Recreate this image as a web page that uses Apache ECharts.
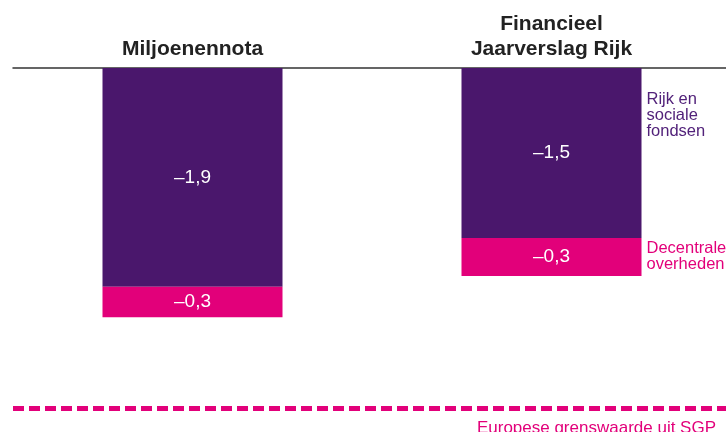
<!DOCTYPE html>
<html>
<head>
<meta charset="utf-8">
<script src="https://cdn.jsdelivr.net/npm/echarts@6/dist/echarts.min.js"></script>
<style>
html,body{margin:0;padding:0;background:#fff;overflow:hidden;width:726px;height:432px;}
#chart{width:736px;height:432px;}
</style>
</head>
<body>
<div id="chart"></div>
<script>
const categories = ['Miljoenennota', 'Financieel\nJaarverslag Rijk'];
const rijkEnSocialeFondsen = [-1.93, -1.50];
const decentraleOverheden = [-0.27, -0.335];
const sgpLimit = -3;
const seriesLabels = ['Rijk en\nsociale\nfondsen', 'Decentrale\noverheden'];
const limitLabel = 'Europese grenswaarde uit SGP';

const PURPLE = '#4A176C';
const PINK = '#E2007A';
const FONT = '"Liberation Sans", Arial, Helvetica, sans-serif';

function fmt(v) {
  return '\u2013' + Math.abs(v).toFixed(1).replace('.', ',');
}

const chart = echarts.init(document.getElementById('chart'), null, {renderer: 'canvas'});
const lastIdx = categories.length - 1;

chart.setOption({
  animation: false,
  backgroundColor: '#fff',
  textStyle: {fontFamily: FONT},
  grid: {left: 13, right: 5, top: 68, height: 362.6, containLabel: false},
  xAxis: {
    type: 'category',
    position: 'top',
    data: categories,
    axisLine: {show: true, lineStyle: {color: '#333', width: 1.5}},
    axisTick: {show: false},
    axisLabel: {
      margin: 6,
      fontSize: 21,
      fontWeight: 'bold',
      lineHeight: 25,
      color: '#222',
      fontFamily: FONT
    }
  },
  yAxis: {
    type: 'value',
    min: -3.2,
    max: 0,
    show: false,
    splitLine: {show: false}
  },
  series: [
    {
      name: 'Rijk en sociale fondsen',
      type: 'bar',
      stack: 'saldo',
      barWidth: 180,
      data: rijkEnSocialeFondsen,
      itemStyle: {color: PURPLE},
      label: {
        show: true, position: 'inside', color: '#fff', fontSize: 19,
        fontFamily: FONT,
        formatter: p => fmt(p.value)
      },
      markPoint: {
        silent: true,
        symbol: 'circle', symbolSize: 0,
        data: [{coord: [lastIdx, -0.42]}],
        label: {
          show: true, position: 'right', distance: 0, offset: [95, 0],
          align: 'left', color: '#52227A', fontSize: 16.5, lineHeight: 16,
          fontFamily: FONT,
          formatter: () => seriesLabels[0]
        }
      }
    },
    {
      name: 'Decentrale overheden',
      type: 'bar',
      stack: 'saldo',
      barWidth: 180,
      data: decentraleOverheden,
      itemStyle: {color: PINK},
      label: {
        show: true, position: 'inside', color: '#fff', fontSize: 19,
        fontFamily: FONT,
        formatter: p => fmt(p.value)
      },
      markPoint: {
        silent: true,
        symbol: 'circle', symbolSize: 0,
        data: [{coord: [lastIdx, rijkEnSocialeFondsen[lastIdx] + decentraleOverheden[lastIdx] / 2]}],
        label: {
          show: true, position: 'right', distance: 0, offset: [95, 0],
          align: 'left', color: PINK, fontSize: 16.5, lineHeight: 16,
          fontFamily: FONT,
          formatter: () => seriesLabels[1]
        }
      },
      markLine: {
        silent: true,
        symbol: ['none', 'none'],
        data: [{yAxis: sgpLimit}],
        lineStyle: {color: PINK, width: 5, type: [11, 5]},
        label: {
          show: true,
          position: 'insideEndBottom',
          distance: [15, 12],
          color: PINK,
          fontSize: 17,
          fontFamily: FONT,
          formatter: () => limitLabel
        }
      }
    }
  ]
});
</script>
</body>
</html>
